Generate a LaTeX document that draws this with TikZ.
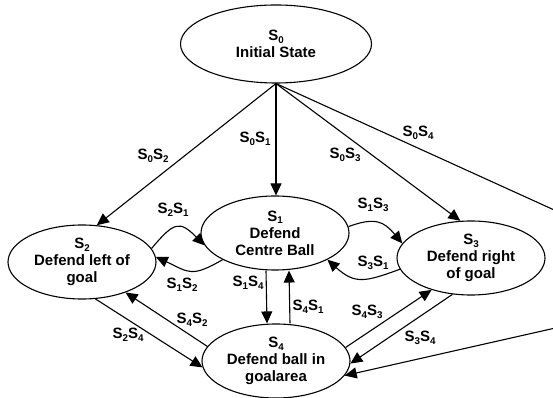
\documentclass[tikz,border=0pt]{standalone}
\usepackage{fontspec}
\setmainfont{Liberation Sans}
\usetikzlibrary{shapes.geometric,arrows.meta,positioning}

\newcommand{\state}[1]{S\raisebox{-0.35ex}{\fontsize{9.8}{10}\selectfont #1}}

\begin{document}
\begin{tikzpicture}[x=1pt, y=1pt,
  state/.style={draw, ellipse, line width=1.1pt, minimum width=148pt,
    minimum height=74pt, inner sep=0pt, align=center,
    font=\fontsize{15}{17}\selectfont\bfseries},
  trans/.style={-{Triangle[length=12pt,width=11pt]}, line width=1.1pt},
  lab/.style={font=\fontsize{15}{17}\selectfont\bfseries, inner sep=0pt}
]
  \useasboundingbox (0,0) rectangle (553,398);
  \clip (0,0) rectangle (553,398);

  % States
  \node[state, minimum width=191pt, minimum height=78pt] (s0) at (276,354) {\state{0}\\Initial State};
  \node[state] (s1) at (275,165) {\state{1}\\Defend\\Centre Ball};
  \node[state] (s2) at (82,136) {\state{2}\\Defend left of\\goal};
  \node[state] (s3) at (471,140) {\state{3}\\Defend right\\of goal};
  \node[state] (s4) at (276,37) {\state{4}\\Defend ball in\\goalarea};

  % Transitions from the initial state
  \draw[trans] (s0.south) -- (s2.68);
  \draw[trans] (s0.south) -- (s0.south |- s1.north);
  \draw[trans] (s0.south) -- (s3.106);
  \coordinate (offright) at (728,109);
  \draw[trans] (s0.south) -- (offright) -- (s4.-12);

  % Transitions between the defending states
  \draw[trans] (s2.11) to[out=50, in=135, looseness=1.7] (s1.190);
  \draw[trans] (s1.207) to[out=210, in=-25, looseness=1.4] (s2.4);
  \draw[trans] (s1.5) to[out=20, in=130, looseness=1.3] (s3.168);
  \draw[trans] (s3.189) to[out=200, in=-42, looseness=1.3] (s1.333);
  \draw[trans] ([xshift=-9pt]s1.south) -- ([xshift=-9pt]s4.north);
  \draw[trans] ([xshift=14pt]s4.north) -- ([xshift=14pt]s1.south);
  \draw[trans] (s4.168) -- (s2.-35);
  \draw[trans] (s2.-70) -- (s4.185);
  \draw[trans] (s4.11) -- (s3.-141);
  \draw[trans] (s3.243) -- (s4.-2);

  % Labels
  \node[lab] (l02) at (153,242) {\state{0}\state{2}};
  \node[lab] (l01) at (255,259) {\state{0}\state{1}};
  \node[lab] (l03) at (345,243) {\state{0}\state{3}};
  \node[lab] (l04) at (418,265) {\state{0}\state{4}};
  \node[lab] (l21) at (173,188) {\state{2}\state{1}};
  \node[lab] (l12) at (182,113) {\state{1}\state{2}};
  \node[lab] (l13) at (373,193) {\state{1}\state{3}};
  \node[lab] (l31) at (373,135) {\state{3}\state{1}};
  \node[lab] (l14) at (248,115) {\state{1}\state{4}};
  \node[lab] (l41) at (308,91) {\state{4}\state{1}};
  \node[lab] (l42) at (192,78) {\state{4}\state{2}};
  \node[lab] (l24) at (128,63) {\state{2}\state{4}};
  \node[lab] (l43) at (367,86) {\state{4}\state{3}};
  \node[lab] (l34) at (420,60) {\state{3}\state{4}};
\end{tikzpicture}
\end{document}
